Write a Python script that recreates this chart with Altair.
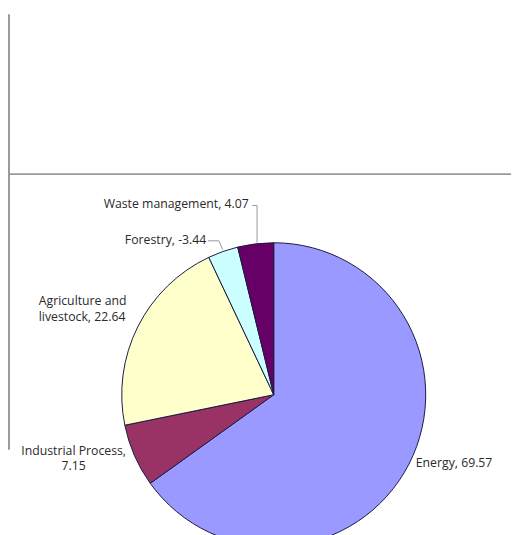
import altair as alt
import pandas as pd

categories = ["Energy", "Industrial Process", "Agriculture and livestock", "Forestry", "Waste management"]
values = [69.57, 7.15, 22.64, -3.44, 4.07]
label_text = ["Energy, 69.57", "Industrial Process,\n7.15", "Agriculture and\nlivestock, 22.64",
              "Forestry, -3.44", "Waste management, 4.07"]
colors = ["#9999ff", "#993366", "#ffffcc", "#ccffff", "#660066"]

sizes = [abs(v) for v in values]
total = sum(sizes)
starts, ends, mids = [], [], []
acc = 0.0
for s in sizes:
    starts.append(acc)
    ends.append(acc + s)
    mids.append(acc + s / 2)
    acc += s

df = pd.DataFrame({"category": categories, "value": values, "size": sizes,
                   "start": starts, "end": ends, "mid": mids, "label": label_text})

CX, CY, R = 270, 388, 155
theta_scale = alt.Scale(domain=[0, total])
base = alt.Chart(df)

pie = base.mark_arc(outerRadius=R, stroke="#1a1a40", strokeWidth=1).encode(
    theta=alt.Theta("start:Q", scale=theta_scale),
    theta2="end:Q",
    x=alt.value(CX), y=alt.value(CY),
    color=alt.Color("category:N", scale=alt.Scale(domain=categories, range=colors), legend=None),
)

# label placement: (align, dx, dy) per category, anchored at slice mid-angle on the rim
placement = {
    "Energy": ("left", 7, -1),
    "Industrial Process": ("center", -62, -5),
    "Agriculture and livestock": ("left", -101, -26),
    "Forestry": ("right", -17, -12),
    "Waste management": ("right", -7, -41),
}
labels = []
for cat in categories:
    al, dx, dy = placement[cat]
    labels.append(
        base.transform_filter(alt.datum.category == cat).mark_text(
            align=al, baseline="middle", dx=dx, dy=dy, lineBreak="\n",
            font="Open Sans", fontSize=12.5, color="#2a2a2a", lineHeight=16,
        ).encode(
            theta=alt.Theta("mid:Q", scale=theta_scale),
            radius=alt.value(R),
            x=alt.value(CX), y=alt.value(CY),
            text="label:N",
        )
    )

def seg(x1, y1, x2, y2, color="#999999", w=1):
    return alt.Chart(df.head(1)).mark_rule(color=color, strokeWidth=w).encode(
        x=alt.value(x1), y=alt.value(y1), x2=alt.value(x2), y2=alt.value(y2))

leaders = [
    seg(248, 195, 253, 195), seg(253, 195, 253, 233),
    seg(203, 231, 214, 231), seg(214, 231, 218, 240),
]
frame = [seg(0, 163, 512, 163, "#9a9a9a", 2), seg(0, 0, 0, 444, "#9a9a9a", 2)]

chart = alt.layer(pie, *labels, *leaders, *frame).properties(
    width=504, height=519, padding=0
).configure_view(stroke=None)

chart.save("out.html", embed_options={"renderer": "svg", "actions": False})
